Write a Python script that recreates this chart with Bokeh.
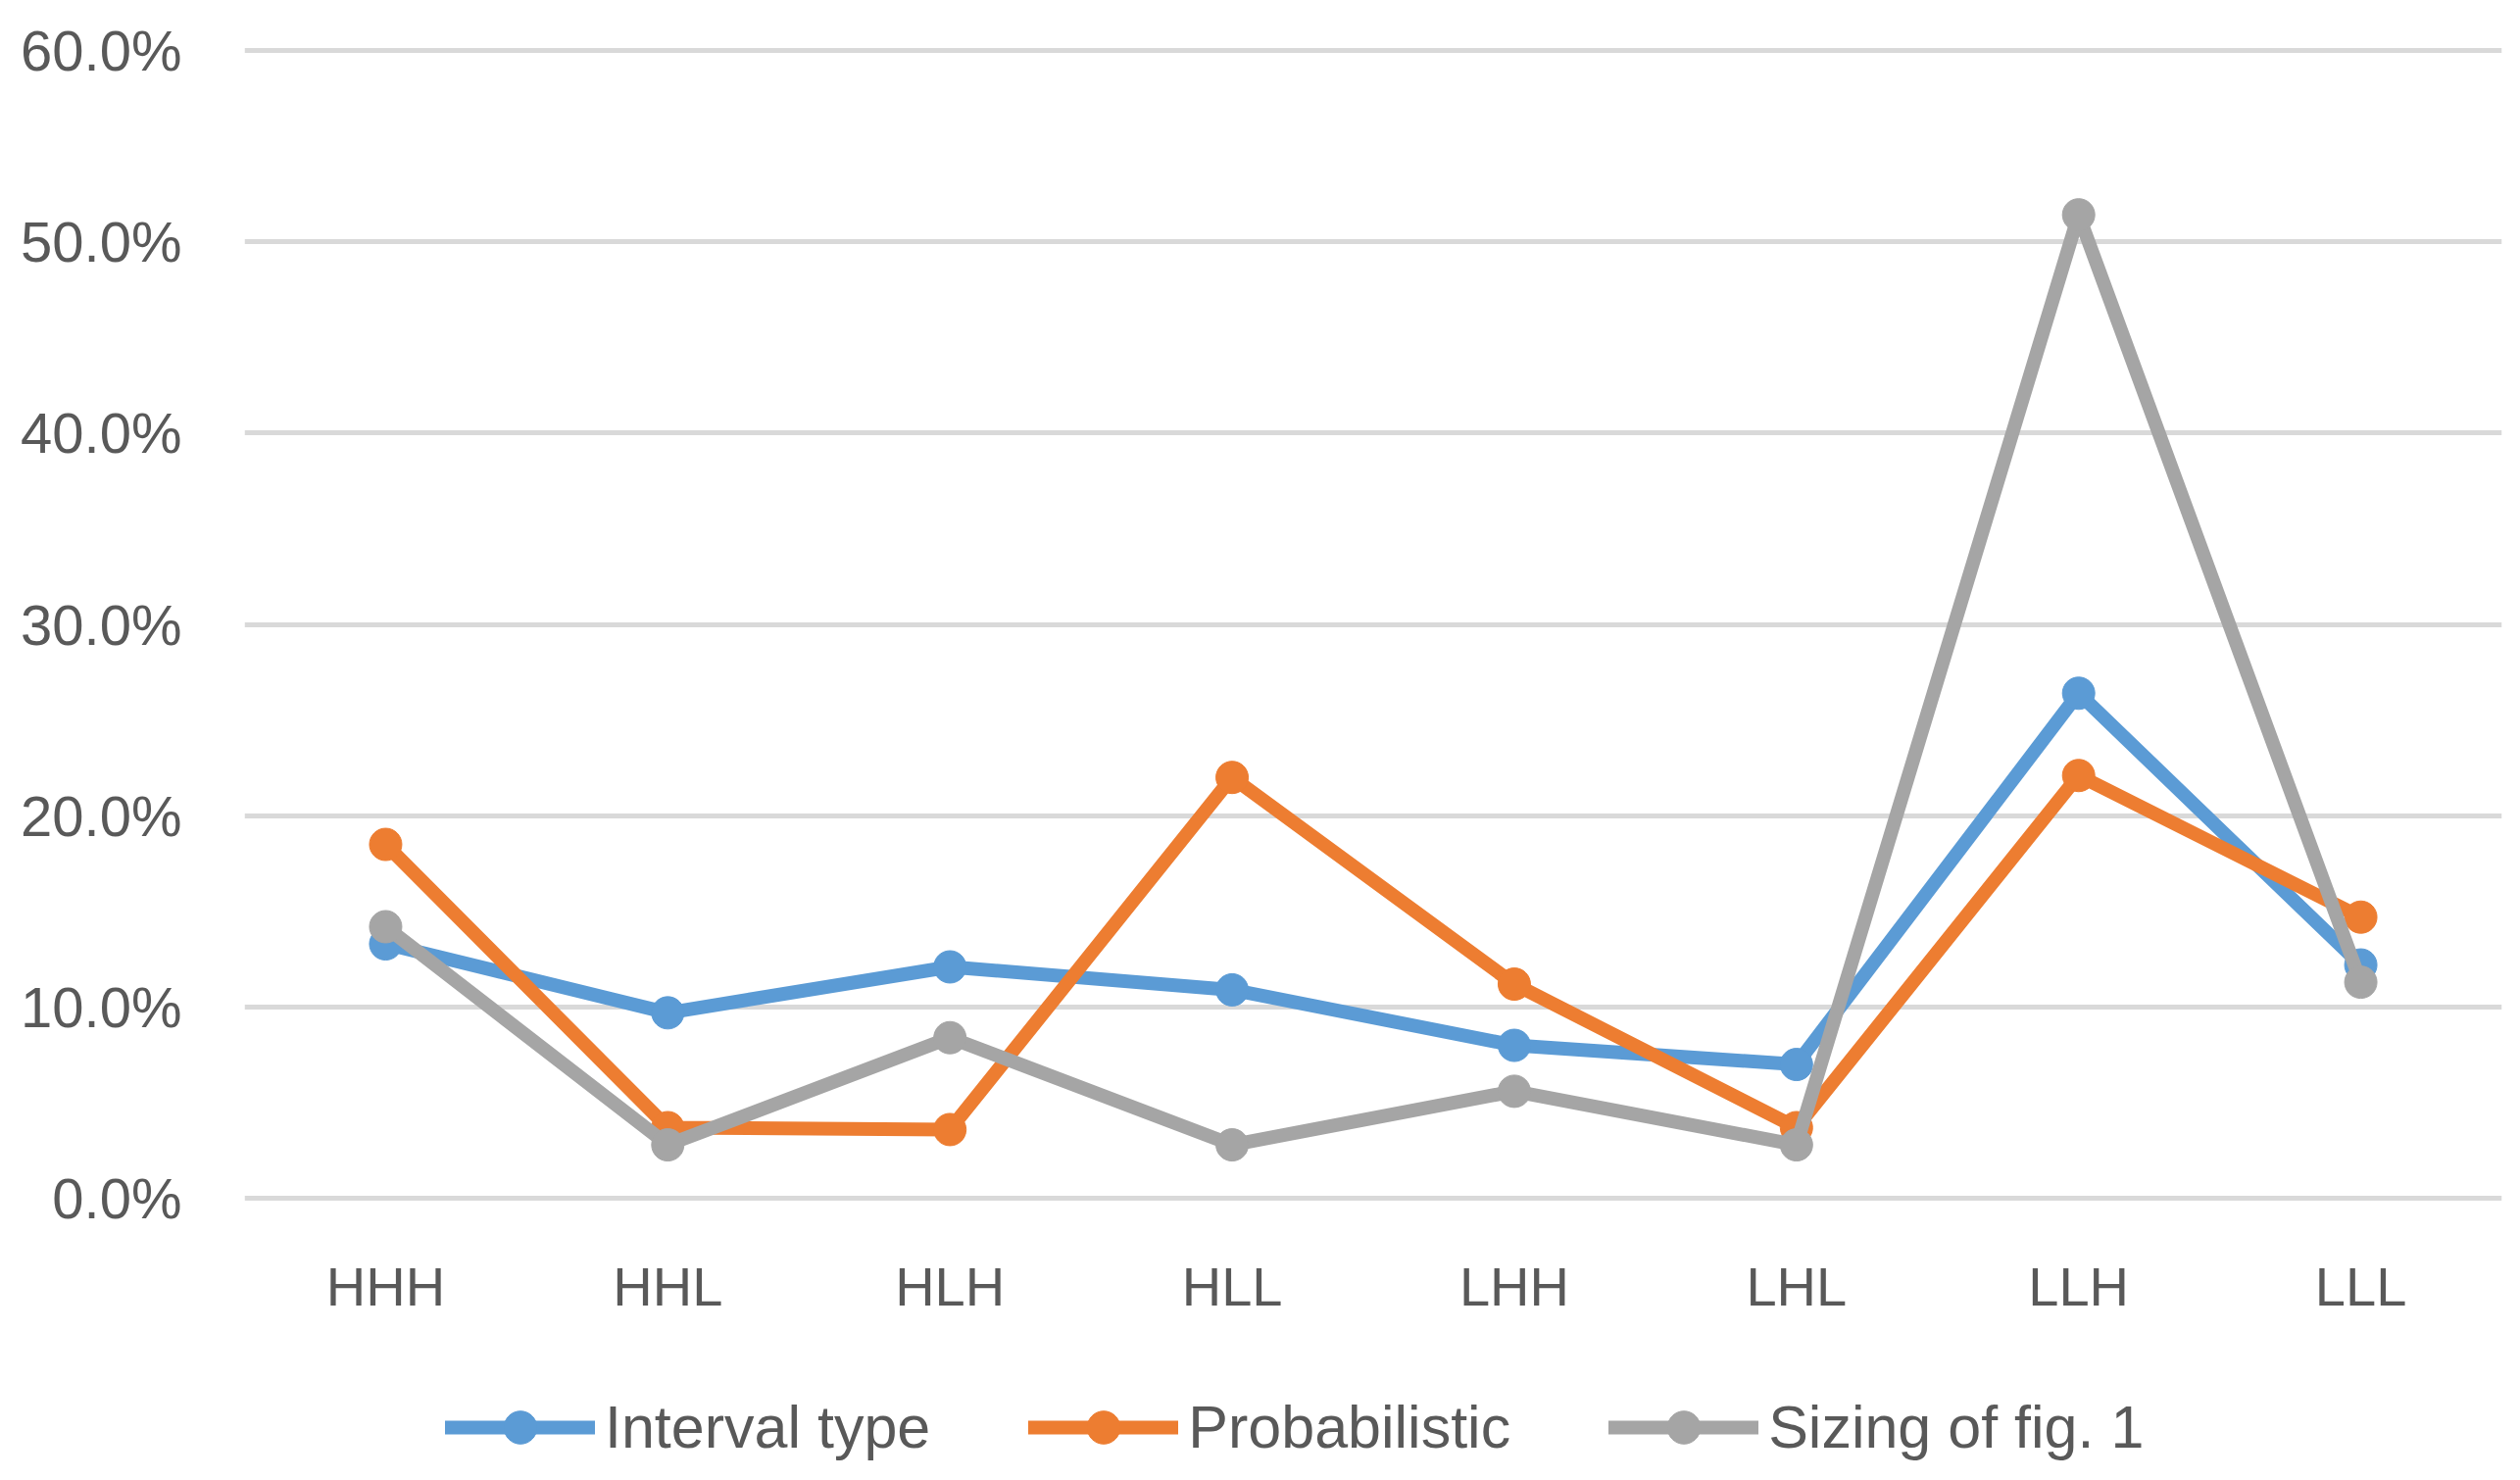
from bokeh.plotting import figure
from bokeh.layouts import column
from bokeh.models import FactorRange, Range1d, NumeralTickFormatter, FixedTicker, Legend, LegendItem
from bokeh.embed import file_html
from bokeh.resources import INLINE

categories = ["HHH", "HHL", "HLH", "HLL", "LHH", "LHL", "LLH", "LLL"]
interval_type = [0.133, 0.097, 0.121, 0.109, 0.080, 0.070, 0.264, 0.122]
probabilistic = [0.185, 0.037, 0.036, 0.220, 0.112, 0.037, 0.221, 0.147]
sizing_fig1 = [0.142, 0.028, 0.084, 0.028, 0.056, 0.028, 0.514, 0.113]
y_ticks = [0.0, 0.1, 0.2, 0.3, 0.4, 0.5, 0.6]

series = [
    ("Interval type", interval_type, "#5b9bd5"),
    ("Probabilistic", probabilistic, "#ed7d31"),
    ("Sizing of fig. 1", sizing_fig1, "#a5a5a5"),
]

FONT = "Liberation Sans"
TXT = "#595959"
LW = 14
MS = 33

p = figure(x_range=FactorRange(*categories), y_range=Range1d(-0.005, 0.605),
           width=2563, height=1372, output_backend="svg", toolbar_location=None,
           min_border_left=249, min_border_right=11, min_border_top=41, min_border_bottom=140)
p.outline_line_color = None
p.background_fill_color = "white"
p.border_fill_color = "white"
p.xgrid.grid_line_color = None
p.ygrid.grid_line_color = "#d9d9d9"
p.ygrid.grid_line_width = 5
p.ygrid.ticker = FixedTicker(ticks=y_ticks)

p.yaxis.ticker = FixedTicker(ticks=y_ticks)
p.yaxis.formatter = NumeralTickFormatter(format="0.0%")
for ax in (p.xaxis[0], p.yaxis[0]):
    ax.axis_line_color = None
    ax.major_tick_line_color = None
    ax.minor_tick_line_color = None
    ax.major_tick_in = 0
    ax.major_tick_out = 0
    ax.minor_tick_in = 0
    ax.minor_tick_out = 0
    ax.major_label_text_font = FONT
    ax.major_label_text_color = TXT
p.yaxis.major_label_text_font_size = "58px"
p.yaxis.major_label_standoff = 64
p.xaxis.major_label_text_font_size = "56px"
p.xaxis.major_label_standoff = 48

for name, vals, col in series:
    p.line(categories, vals, line_width=LW, line_color=col, line_join="round", line_cap="round")
    p.scatter(categories, vals, size=MS, fill_color=col, line_color=col)

# legend strip below the chart (dummy renderers lie outside its visible range)
q = figure(width=2563, height=128, x_range=Range1d(0, 1), y_range=Range1d(0, 1),
           output_backend="svg", toolbar_location=None,
           x_axis_location=None, y_axis_location=None,
           min_border_left=0, min_border_right=0, min_border_top=0, min_border_bottom=0)
q.outline_line_color = None
q.grid.visible = False
q.border_fill_color = "white"

items = []
for name, vals, col in series:
    l = q.line(x=[-2, -1], y=[-2, -2], line_width=LW, line_color=col, line_cap="round")
    s = q.scatter(x=[-2], y=[-2], size=MS, fill_color=col, line_color=col)
    items.append(LegendItem(label=name, renderers=[l, s]))

legend = Legend(items=items, orientation="horizontal", location=(205, 2),
                border_line_color=None, background_fill_alpha=0,
                glyph_width=153, glyph_height=84, label_standoff=10, spacing=100,
                padding=0, margin=0, label_text_font=FONT, label_text_font_size="61px",
                label_text_color=TXT)
q.add_layout(legend, "center")

layout = column(p, q, spacing=0)
open("out.html", "w").write(file_html(layout, INLINE))
